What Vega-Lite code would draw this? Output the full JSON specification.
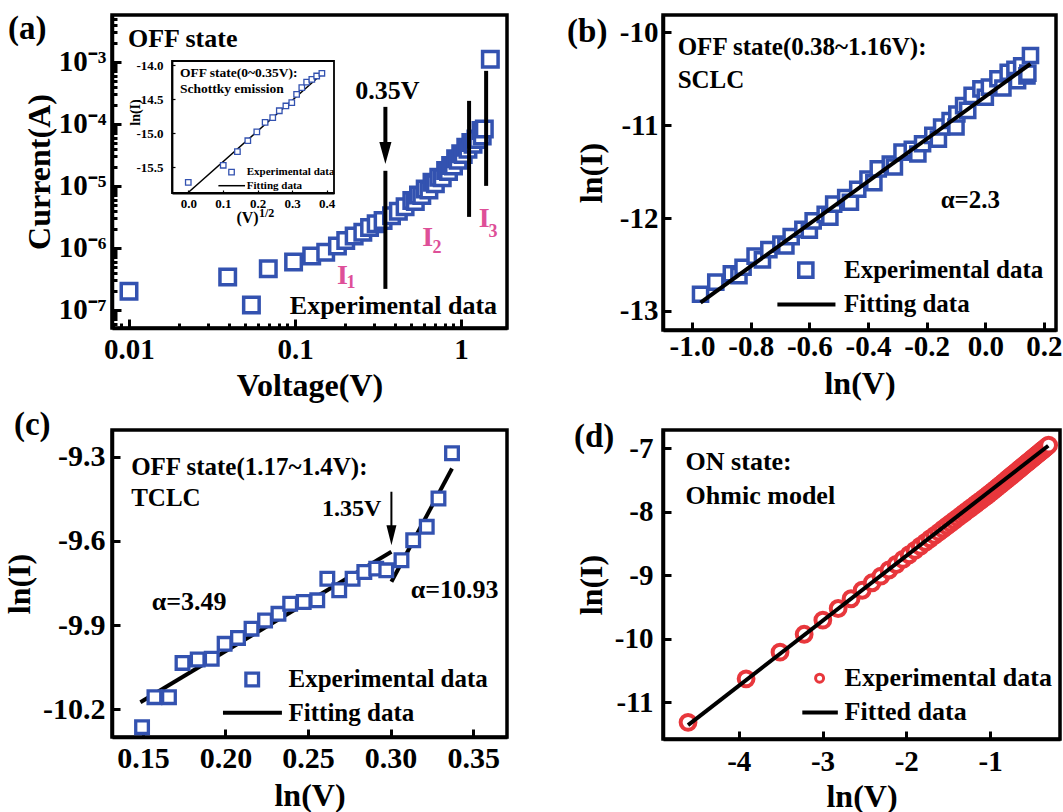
{
"$schema": "https://vega.github.io/schema/vega-lite/v6.json",
"background": "white",
"padding": {"left": 1, "top": 2, "right": 0, "bottom": 0},
"autosize": {"type": "pad"},
"config": {
  "view": {"stroke": "black", "strokeWidth": 3.5},
  "font": "Liberation Serif",
  "axis": {"labelFont": "Liberation Serif", "labelFontWeight": "bold", "labelFontSize": 29, "labelColor": "black", "titleFont": "Liberation Serif", "titleFontWeight": "bold", "titleFontSize": 32, "titleColor": "black", "domainColor": "black", "domainWidth": 3.5, "tickColor": "black", "tickWidth": 3, "tickSize": -8, "grid": false, "labelFlush": false, "labelOverlap": false, "labelBound": false},
  "text": {"font": "Liberation Serif", "fontWeight": "bold", "color": "black"}
},
"datasets": {
  "a_pts": [
    {"x":0.01,"y":2.0e-7},{"x":0.0393,"y":3.4e-7},{"x":0.069,"y":4.6e-7},{"x":0.098,"y":5.9e-7},{"x":0.126,"y":7.4e-7},{"x":0.153,"y":8.5e-7},{"x":0.18,"y":1.07e-6},{"x":0.202,"y":1.32e-6},{"x":0.227,"y":1.55e-6},{"x":0.256,"y":1.79e-6},{"x":0.281,"y":2.14e-6},{"x":0.308,"y":2.44e-6},{"x":0.339,"y":2.76e-6},{"x":0.381,"y":3.3e-6},{"x":0.419,"y":3.9e-6},{"x":0.46,"y":4.6e-6},{"x":0.505,"y":5.8e-6},{"x":0.53,"y":5.6e-6},{"x":0.554,"y":7.1e-6},{"x":0.58,"y":7.0e-6},{"x":0.608,"y":8.9e-6},{"x":0.64,"y":8.6e-6},{"x":0.668,"y":1.14e-5},{"x":0.70,"y":1.08e-5},{"x":0.734,"y":1.38e-5},{"x":0.77,"y":1.35e-5},{"x":0.807,"y":1.77e-5},{"x":0.84,"y":1.7e-5},{"x":0.865,"y":2.13e-5},{"x":0.90,"y":2.1e-5},{"x":0.927,"y":2.74e-5},{"x":0.96,"y":2.6e-5},{"x":0.995,"y":3.3e-5},{"x":1.03,"y":3.2e-5},{"x":1.067,"y":4.2e-5},{"x":1.10,"y":3.9e-5},{"x":1.145,"y":5.0e-5},{"x":1.18,"y":4.7e-5},{"x":1.228,"y":5.7e-5},{"x":1.26,"y":5.6e-5},{"x":1.318,"y":7.8e-5},{"x":1.34,"y":6.4e-5},{"x":1.38,"y":8.3e-5},{"x":1.5,"y":1.1e-3}
  ],
  "a_leg": [{"x":0.0546,"y":1.2e-7}],
  "a_rules": [{"x":0.35,"y":1.75e-5,"y2":2.18e-7},{"x":1.117,"y":2.35e-4,"y2":3.16e-6},{"x":1.415,"y":7.16e-4,"y2":1.0e-5},{"x":0.35,"y":1.88e-4,"y2":4.0e-5}],
  "a_head": [{"x":0.35,"y":3.4e-5}],
  "a_txt": [{"x":0.00986,"y":2.35e-3,"t":"OFF state"},{"x":0.093,"y":1.16e-7,"t":"Experimental data"}],
  "a_txtc": [{"x":0.36,"y":3.44e-4,"t":"0.35V"}],
  "a_I": [{"x":0.1932,"y":3.57e-7,"t":"I"},{"x":0.6295,"y":1.43e-6,"t":"I"},{"x":1.376,"y":2.94e-6,"t":"I"}],
  "a_Isub": [{"x":0.2173,"y":2.72e-7,"t":"1"},{"x":0.7166,"y":9.9e-7,"t":"2"},{"x":1.559,"y":1.83e-6,"t":"3"}],
  "a_lab": [{"x":0.001866,"y":3.4e-3,"t":"(a)"}],
  "in_frame": [{"x":-0.047,"x2":0.421,"y":-15.877,"y2":-13.94}],
  "in_pts": [{"x":0.0,"y":-15.72},{"x":0.101,"y":-15.47},{"x":0.142,"y":-15.27},{"x":0.172,"y":-15.11},{"x":0.198,"y":-14.98},{"x":0.222,"y":-14.84},{"x":0.244,"y":-14.77},{"x":0.263,"y":-14.67},{"x":0.282,"y":-14.6},{"x":0.299,"y":-14.55},{"x":0.313,"y":-14.43},{"x":0.328,"y":-14.33},{"x":0.342,"y":-14.25},{"x":0.357,"y":-14.21},{"x":0.371,"y":-14.16},{"x":0.386,"y":-14.12}],
  "in_leg": [{"x":0.125,"y":-15.57}],
  "in_fit": [{"x":0.0,"y":-15.87},{"x":0.386,"y":-14.13}],
  "in_legline": [{"x":0.087,"y":-15.77},{"x":0.164,"y":-15.77}],
  "in_txt": [{"x":-0.024,"y":-14.11,"t":"OFF state(0~0.35V):"},{"x":-0.024,"y":-14.35,"t":"Schottky emission"}],
  "in_txts": [{"x":0.169,"y":-15.57,"t":"Experimental data"},{"x":0.169,"y":-15.77,"t":"Fitting data"}],
  "in_sup": [{"x":0.2043,"y":-16.17,"t":"1/2"}],
  "b_pts": [
    {"x":-0.971,"y":-12.82},{"x":-0.919,"y":-12.69},{"x":-0.866,"y":-12.6},{"x":-0.84,"y":-12.62},{"x":-0.826,"y":-12.53},{"x":-0.785,"y":-12.41},{"x":-0.76,"y":-12.45},{"x":-0.738,"y":-12.34},{"x":-0.697,"y":-12.28},{"x":-0.68,"y":-12.30},{"x":-0.662,"y":-12.2},{"x":-0.622,"y":-12.12},{"x":-0.60,"y":-12.13},{"x":-0.587,"y":-12.03},{"x":-0.546,"y":-11.96},{"x":-0.53,"y":-11.99},{"x":-0.517,"y":-11.85},{"x":-0.476,"y":-11.78},{"x":-0.46,"y":-11.83},{"x":-0.435,"y":-11.69},{"x":-0.4,"y":-11.58},{"x":-0.38,"y":-11.62},{"x":-0.365,"y":-11.47},{"x":-0.324,"y":-11.42},{"x":-0.31,"y":-11.45},{"x":-0.284,"y":-11.29},{"x":-0.249,"y":-11.26},{"x":-0.23,"y":-11.31},{"x":-0.214,"y":-11.2},{"x":-0.179,"y":-11.11},{"x":-0.16,"y":-11.15},{"x":-0.149,"y":-11.02},{"x":-0.12,"y":-10.95},{"x":-0.10,"y":-11.02},{"x":-0.097,"y":-10.88},{"x":-0.074,"y":-10.79},{"x":-0.06,"y":-10.84},{"x":-0.045,"y":-10.68},{"x":-0.015,"y":-10.61},{"x":0.0,"y":-10.70},{"x":0.014,"y":-10.59},{"x":0.043,"y":-10.5},{"x":0.06,"y":-10.6},{"x":0.078,"y":-10.43},{"x":0.101,"y":-10.4},{"x":0.11,"y":-10.52},{"x":0.124,"y":-10.36},{"x":0.142,"y":-10.47},{"x":0.145,"y":-10.44},{"x":0.154,"y":-10.25}
  ],
  "b_leg": [{"x":-0.612,"y":-12.56}],
  "b_fit": [{"x":-0.971,"y":-12.91},{"x":0.154,"y":-10.34}],
  "b_legline": [{"x":-0.709,"y":-12.93},{"x":-0.511,"y":-12.93}],
  "b_txt": [{"x":-1.049,"y":-10.16,"t":"OFF state(0.38~1.16V):"},{"x":-1.049,"y":-10.51,"t":"SCLC"},{"x":-0.482,"y":-12.56,"t":"Experimental data"},{"x":-0.482,"y":-12.93,"t":"Fitting data"}],
  "b_txtc": [{"x":-0.051,"y":-11.81,"t":"α=2.3"}],
  "b_lab": [{"x":-1.426,"y":-9.997,"t":"(b)"}],
  "c_pts": [
    {"x":0.1495,"y":-10.264},{"x":0.157,"y":-10.157},{"x":0.1658,"y":-10.157},{"x":0.174,"y":-10.035},{"x":0.1832,"y":-10.023},{"x":0.1917,"y":-10.02},{"x":0.1995,"y":-9.967},{"x":0.2076,"y":-9.946},{"x":0.2158,"y":-9.913},{"x":0.224,"y":-9.884},{"x":0.2321,"y":-9.86},{"x":0.2392,"y":-9.824},{"x":0.2474,"y":-9.818},{"x":0.2556,"y":-9.812},{"x":0.2617,"y":-9.735},{"x":0.2689,"y":-9.776},{"x":0.277,"y":-9.735},{"x":0.2841,"y":-9.711},{"x":0.2913,"y":-9.699},{"x":0.2974,"y":-9.705},{"x":0.3066,"y":-9.669},{"x":0.3137,"y":-9.598},{"x":0.3219,"y":-9.55},{"x":0.329,"y":-9.449},{"x":0.3372,"y":-9.288}
  ],
  "c_leg": [{"x":0.2162,"y":-10.094}],
  "c_fit1": [{"x":0.1485,"y":-10.175},{"x":0.3005,"y":-9.639}],
  "c_fit2": [{"x":0.3005,"y":-9.746},{"x":0.3372,"y":-9.342}],
  "c_legline": [{"x":0.1985,"y":-10.213},{"x":0.2342,"y":-10.213}],
  "c_arrow": [{"x":0.3005,"y":-9.425,"y2":-9.57}],
  "c_head": [{"x":0.3005,"y":-9.58}],
  "c_txt": [{"x":0.1429,"y":-9.336,"t":"OFF state(1.17~1.4V):"},{"x":0.1429,"y":-9.446,"t":"TCLC"},{"x":0.2382,"y":-10.094,"t":"Experimental data"},{"x":0.2382,"y":-10.213,"t":"Fitting data"}],
  "c_txtc": [{"x":0.178,"y":-9.818,"t":"α=3.49"},{"x":0.3388,"y":-9.776,"t":"α=10.93"}],
  "c_v": [{"x":0.2765,"y":-9.485,"t":"1.35V"}],
  "c_lab": [{"x":0.0719,"y":-9.187,"t":"(c)"}],
  "d_pts": [
    {"x":-4.605,"y":-11.315},{"x":-3.912,"y":-10.63},{"x":-3.507,"y":-10.21},{"x":-3.219,"y":-9.929},{"x":-2.996,"y":-9.706},{"x":-2.813,"y":-9.523},{"x":-2.659,"y":-9.369},{"x":-2.526,"y":-9.236},{"x":-2.408,"y":-9.118},{"x":-2.303,"y":-9.013},
    {"x":-2.207,"y":-8.917},{"x":-2.120,"y":-8.830},{"x":-2.040,"y":-8.750},{"x":-1.966,"y":-8.676},{"x":-1.897,"y":-8.607},{"x":-1.833,"y":-8.543},{"x":-1.772,"y":-8.482},{"x":-1.715,"y":-8.425},{"x":-1.661,"y":-8.371},{"x":-1.609,"y":-8.319},
    {"x":-1.561,"y":-8.271},{"x":-1.514,"y":-8.224},{"x":-1.470,"y":-8.180},{"x":-1.427,"y":-8.137},{"x":-1.386,"y":-8.096},{"x":-1.347,"y":-8.057},{"x":-1.309,"y":-8.019},{"x":-1.273,"y":-7.983},{"x":-1.238,"y":-7.948},{"x":-1.204,"y":-7.914},
    {"x":-1.171,"y":-7.881},{"x":-1.139,"y":-7.849},{"x":-1.109,"y":-7.819},{"x":-1.079,"y":-7.789},{"x":-1.050,"y":-7.760},{"x":-1.022,"y":-7.732},{"x":-0.994,"y":-7.703},{"x":-0.968,"y":-7.675},{"x":-0.942,"y":-7.647},{"x":-0.916,"y":-7.619},
    {"x":-0.892,"y":-7.593},{"x":-0.868,"y":-7.567},{"x":-0.844,"y":-7.541},{"x":-0.821,"y":-7.516},{"x":-0.799,"y":-7.492},{"x":-0.777,"y":-7.468},{"x":-0.755,"y":-7.444},{"x":-0.734,"y":-7.421},{"x":-0.713,"y":-7.398},{"x":-0.693,"y":-7.377},
    {"x":-0.673,"y":-7.355},{"x":-0.654,"y":-7.334},{"x":-0.635,"y":-7.314},{"x":-0.616,"y":-7.293},{"x":-0.598,"y":-7.274},{"x":-0.580,"y":-7.254},{"x":-0.562,"y":-7.235},{"x":-0.545,"y":-7.216},{"x":-0.528,"y":-7.198},{"x":-0.511,"y":-7.179},
    {"x":-0.494,"y":-7.161},{"x":-0.478,"y":-7.143},{"x":-0.462,"y":-7.126},{"x":-0.446,"y":-7.109},{"x":-0.431,"y":-7.092},{"x":-0.416,"y":-7.076},{"x":-0.401,"y":-7.060},{"x":-0.386,"y":-7.043},{"x":-0.371,"y":-7.027},{"x":-0.357,"y":-7.012},
    {"x":-0.342,"y":-6.996},{"x":-0.329,"y":-6.982},{"x":-0.315,"y":-6.966},{"x":-0.301,"y":-6.951}
  ],
  "d_leg": [{"x":-3.035,"y":-10.62}],
  "d_fit": [{"x":-4.605,"y":-11.36},{"x":-0.305,"y":-6.96}],
  "d_legline": [{"x":-3.241,"y":-11.16},{"x":-2.817,"y":-11.16}],
  "d_txt": [{"x":-4.634,"y":-7.22,"t":"ON state:"},{"x":-4.634,"y":-7.756,"t":"Ohmic model"},{"x":-2.736,"y":-10.62,"t":"Experimental data"},{"x":-2.736,"y":-11.16,"t":"Fitted data"}],
  "d_lab": [{"x":-5.967,"y":-6.827,"t":"(d)"}]
},
"columns": 2,
"bounds": "flush",
"spacing": {"row": 100, "column": 156},
"concat": [
  {
    "width": 395, "height": 313,
    "resolve": {"scale": {"x": "independent", "y": "independent"}, "axis": {"x": "independent", "y": "independent"}},
    "layer": [
      {
        "encoding": {
          "x": {"field": "x", "type": "quantitative", "scale": {"type": "log", "domain": [0.0079, 1.89], "nice": false},
                "axis": {"orient": "bottom", "title": "Voltage(V)", "values": [0.008,0.009,0.01,0.02,0.03,0.04,0.05,0.06,0.07,0.08,0.09,0.1,0.2,0.3,0.4,0.5,0.6,0.7,0.8,0.9,1],
                         "labelExpr": "datum.value == 0.01 ? '0.01' : datum.value == 0.1 ? '0.1' : datum.value == 1 ? '1' : ''",
                         "tickSize": {"condition": {"test": "datum.value == 0.01 || datum.value == 0.1 || datum.value == 1", "value": -9}, "value": -5},
                         "labelPadding": 16, "titlePadding": 2}},
          "y": {"field": "y", "type": "quantitative", "scale": {"type": "log", "domain": [5.1e-8, 5.7e-3], "nice": false},
                "axis": {"orient": "left", "title": "Current(A)", "values": [6e-8,7e-8,8e-8,9e-8,1e-7,2e-7,3e-7,4e-7,5e-7,6e-7,7e-7,8e-7,9e-7,1e-6,2e-6,3e-6,4e-6,5e-6,6e-6,7e-6,8e-6,9e-6,1e-5,2e-5,3e-5,4e-5,5e-5,6e-5,7e-5,8e-5,9e-5,1e-4,2e-4,3e-4,4e-4,5e-4,6e-4,7e-4,8e-4,9e-4,1e-3,2e-3,3e-3,4e-3,5e-3],
                         "labelExpr": "datum.value == 1e-3 ? '10⁻³' : datum.value == 1e-4 ? '10⁻⁴' : datum.value == 1e-5 ? '10⁻⁵' : datum.value == 1e-6 ? '10⁻⁶' : datum.value == 1e-7 ? '10⁻⁷' : ''",
                         "tickSize": {"condition": {"test": "datum.value == 1e-3 || datum.value == 1e-4 || datum.value == 1e-5 || datum.value == 1e-6 || datum.value == 1e-7", "value": -9}, "value": -5},
                         "labelPadding": 15, "titlePadding": 2}}
        },
        "layer": [
          {"data": {"name": "a_pts"}, "mark": {"type": "point", "shape": "square", "size": 240, "filled": true, "fill": "white", "stroke": "#3352b0", "strokeWidth": 3.5, "opacity": 1}},
          {"data": {"name": "a_leg"}, "mark": {"type": "point", "shape": "square", "size": 240, "filled": true, "fill": "white", "stroke": "#3352b0", "strokeWidth": 3.5, "opacity": 1}},
          {"data": {"name": "a_rules"}, "mark": {"type": "rule", "strokeWidth": 4, "color": "black"}, "encoding": {"y2": {"field": "y2"}}},
          {"data": {"name": "a_head"}, "mark": {"type": "point", "shape": "M -0.55 -1 L 0.55 -1 L 0 1 Z", "size": 484, "filled": true, "color": "black", "opacity": 1}},
          {"data": {"name": "a_txt"}, "mark": {"type": "text", "align": "left", "baseline": "middle", "fontSize": 26}, "encoding": {"text": {"field": "t"}}},
          {"data": {"name": "a_txtc"}, "mark": {"type": "text", "align": "center", "baseline": "middle", "fontSize": 26}, "encoding": {"text": {"field": "t"}}},
          {"data": {"name": "a_I"}, "mark": {"type": "text", "align": "center", "baseline": "middle", "fontSize": 28, "color": "#de4f98"}, "encoding": {"text": {"field": "t"}}},
          {"data": {"name": "a_Isub"}, "mark": {"type": "text", "align": "center", "baseline": "middle", "fontSize": 18, "color": "#de4f98"}, "encoding": {"text": {"field": "t"}}},
          {"data": {"name": "a_lab"}, "mark": {"type": "text", "align": "left", "baseline": "middle", "fontSize": 33}, "encoding": {"text": {"field": "t"}}}
        ]
      },
      {
        "encoding": {
          "x": {"field": "x", "type": "quantitative", "scale": {"domain": [-0.047, 0.421], "range": [60, 222], "nice": false, "zero": false},
                "axis": {"orient": "bottom", "offset": -135, "title": "(V)", "values": [0, 0.1, 0.2, 0.3, 0.4], "format": ".1f", "labelFontSize": 13, "titleFontSize": 16, "tickSize": -3, "tickWidth": 1.2, "domainWidth": 1.8, "labelPadding": 7, "titlePadding": -1, "titleX": 135}},
          "y": {"field": "y", "type": "quantitative", "scale": {"domain": [-15.877, -13.94], "range": [178, 46], "nice": false, "zero": false},
                "axis": {"orient": "left", "offset": -60, "title": "ln(I)", "values": [-14, -14.5, -15, -15.5], "labelExpr": "'-' + format(-datum.value, '.1f')", "labelFontSize": 13, "titleFontSize": 14, "tickSize": -3, "tickWidth": 1.2, "domainWidth": 1.8, "labelPadding": 12, "titlePadding": 2, "titleX": -30, "titleY": 97}}
        },
        "layer": [
          {"data": {"name": "in_frame"}, "mark": {"type": "rect", "fillOpacity": 0, "stroke": "black", "strokeWidth": 1.8}, "encoding": {"x2": {"field": "x2"}, "y2": {"field": "y2"}}},
          {"data": {"name": "in_fit"}, "mark": {"type": "line", "color": "black", "strokeWidth": 1.5}},
          {"data": {"name": "in_pts"}, "mark": {"type": "point", "shape": "square", "size": 30, "filled": true, "fill": "white", "stroke": "#3352b0", "strokeWidth": 1.3, "opacity": 1}},
          {"data": {"name": "in_leg"}, "mark": {"type": "point", "shape": "square", "size": 30, "filled": true, "fill": "white", "stroke": "#3352b0", "strokeWidth": 1.3, "opacity": 1}},
          {"data": {"name": "in_legline"}, "mark": {"type": "line", "color": "black", "strokeWidth": 1.5}},
          {"data": {"name": "in_txt"}, "mark": {"type": "text", "align": "left", "baseline": "middle", "fontSize": 13.5}, "encoding": {"text": {"field": "t"}}},
          {"data": {"name": "in_txts"}, "mark": {"type": "text", "align": "left", "baseline": "middle", "fontSize": 11}, "encoding": {"text": {"field": "t"}}},
          {"data": {"name": "in_sup"}, "mark": {"type": "text", "align": "left", "baseline": "middle", "fontSize": 12}, "encoding": {"text": {"field": "t"}}}
        ]
      }
    ]
  },
  {
    "width": 393, "height": 315,
    "encoding": {
      "x": {"field": "x", "type": "quantitative", "scale": {"domain": [-1.099, 0.241], "nice": false, "zero": false},
            "axis": {"orient": "bottom", "title": "ln(V)", "values": [-1, -0.8, -0.6, -0.4, -0.2, 0, 0.2], "labelExpr": "datum.value < 0 ? '-' + format(-datum.value, '.1f') : format(datum.value, '.1f')", "labelPadding": 10, "titlePadding": 7}},
      "y": {"field": "y", "type": "quantitative", "scale": {"domain": [-13.205, -9.814], "nice": false, "zero": false},
            "axis": {"orient": "left", "title": "ln(I)", "values": [-10, -11, -12, -13], "labelExpr": "'-' + format(-datum.value, 'd')", "labelPadding": 13, "titlePadding": 11}}
    },
    "layer": [
      {"data": {"name": "b_pts"}, "mark": {"type": "point", "shape": "square", "size": 200, "filled": true, "fill": "white", "stroke": "#3352b0", "strokeWidth": 3.5, "opacity": 1}},
      {"data": {"name": "b_leg"}, "mark": {"type": "point", "shape": "square", "size": 200, "filled": true, "fill": "white", "stroke": "#3352b0", "strokeWidth": 3.5, "opacity": 1}},
      {"data": {"name": "b_fit"}, "mark": {"type": "line", "color": "black", "strokeWidth": 4}},
      {"data": {"name": "b_legline"}, "mark": {"type": "line", "color": "black", "strokeWidth": 4}},
      {"data": {"name": "b_txt"}, "mark": {"type": "text", "align": "left", "baseline": "middle", "fontSize": 25}, "encoding": {"text": {"field": "t"}}},
      {"data": {"name": "b_txtc"}, "mark": {"type": "text", "align": "center", "baseline": "middle", "fontSize": 25}, "encoding": {"text": {"field": "t"}}},
      {"data": {"name": "b_lab"}, "mark": {"type": "text", "align": "left", "baseline": "middle", "fontSize": 33}, "encoding": {"text": {"field": "t"}}}
    ]
  },
  {
    "width": 395, "height": 307,
    "encoding": {
      "x": {"field": "x", "type": "quantitative", "scale": {"domain": [0.1313, 0.3705], "nice": false, "zero": false},
            "axis": {"orient": "bottom", "title": "ln(V)", "values": [0.15, 0.2, 0.25, 0.3, 0.35], "format": ".2f", "labelFontSize": 30, "labelPadding": 14, "titlePadding": 7}},
      "y": {"field": "y", "type": "quantitative", "scale": {"domain": [-10.299, -9.205], "nice": false, "zero": false},
            "axis": {"orient": "left", "title": "ln(I)", "values": [-9.3, -9.6, -9.9, -10.2], "labelExpr": "'-' + format(-datum.value, '.1f')", "labelFontSize": 30, "labelPadding": 15, "titlePadding": 6}}
    },
    "layer": [
      {"data": {"name": "c_fit1"}, "mark": {"type": "line", "color": "black", "strokeWidth": 4}},
      {"data": {"name": "c_fit2"}, "mark": {"type": "line", "color": "black", "strokeWidth": 4}},
      {"data": {"name": "c_pts"}, "mark": {"type": "point", "shape": "square", "size": 160, "filled": true, "fill": "white", "stroke": "#3352b0", "strokeWidth": 3.3, "opacity": 1}},
      {"data": {"name": "c_leg"}, "mark": {"type": "point", "shape": "square", "size": 160, "filled": true, "fill": "white", "stroke": "#3352b0", "strokeWidth": 3.3, "opacity": 1}},
      {"data": {"name": "c_legline"}, "mark": {"type": "line", "color": "black", "strokeWidth": 4}},
      {"data": {"name": "c_arrow"}, "mark": {"type": "rule", "color": "black", "strokeWidth": 2}, "encoding": {"y2": {"field": "y2"}}},
      {"data": {"name": "c_head"}, "mark": {"type": "point", "shape": "M -0.5 -1 L 0.5 -1 L 0 1 Z", "size": 400, "filled": true, "color": "black", "opacity": 1}},
      {"data": {"name": "c_txt"}, "mark": {"type": "text", "align": "left", "baseline": "middle", "fontSize": 25}, "encoding": {"text": {"field": "t"}}},
      {"data": {"name": "c_txtc"}, "mark": {"type": "text", "align": "center", "baseline": "middle", "fontSize": 26}, "encoding": {"text": {"field": "t"}}},
      {"data": {"name": "c_v"}, "mark": {"type": "text", "align": "center", "baseline": "middle", "fontSize": 24}, "encoding": {"text": {"field": "t"}}},
      {"data": {"name": "c_lab"}, "mark": {"type": "text", "align": "left", "baseline": "middle", "fontSize": 33}, "encoding": {"text": {"field": "t"}}}
    ]
  },
  {
    "width": 397, "height": 309,
    "encoding": {
      "x": {"field": "x", "type": "quantitative", "scale": {"domain": [-4.904, -0.165], "nice": false, "zero": false},
            "axis": {"orient": "bottom", "title": "ln(V)", "values": [-4, -3, -2, -1], "labelExpr": "'-' + format(-datum.value, 'd')", "labelPadding": 16, "titlePadding": 5}},
      "y": {"field": "y", "type": "quantitative", "scale": {"domain": [-11.578, -6.712], "nice": false, "zero": false},
            "axis": {"orient": "left", "title": "ln(I)", "values": [-7, -8, -9, -10, -11], "labelExpr": "'-' + format(-datum.value, 'd')", "labelPadding": 18, "titlePadding": 6}}
    },
    "layer": [
      {"data": {"name": "d_pts"}, "mark": {"type": "point", "shape": "circle", "size": 220, "filled": true, "fill": "white", "stroke": "#e8373c", "strokeWidth": 4, "opacity": 1}},
      {"data": {"name": "d_fit"}, "mark": {"type": "line", "color": "black", "strokeWidth": 4}},
      {"data": {"name": "d_leg"}, "mark": {"type": "point", "shape": "circle", "size": 64, "filled": true, "fill": "white", "stroke": "#e8373c", "strokeWidth": 3, "opacity": 1}},
      {"data": {"name": "d_legline"}, "mark": {"type": "line", "color": "black", "strokeWidth": 4}},
      {"data": {"name": "d_txt"}, "mark": {"type": "text", "align": "left", "baseline": "middle", "fontSize": 26}, "encoding": {"text": {"field": "t"}}},
      {"data": {"name": "d_lab"}, "mark": {"type": "text", "align": "left", "baseline": "middle", "fontSize": 33}, "encoding": {"text": {"field": "t"}}}
    ]
  }
]
}
